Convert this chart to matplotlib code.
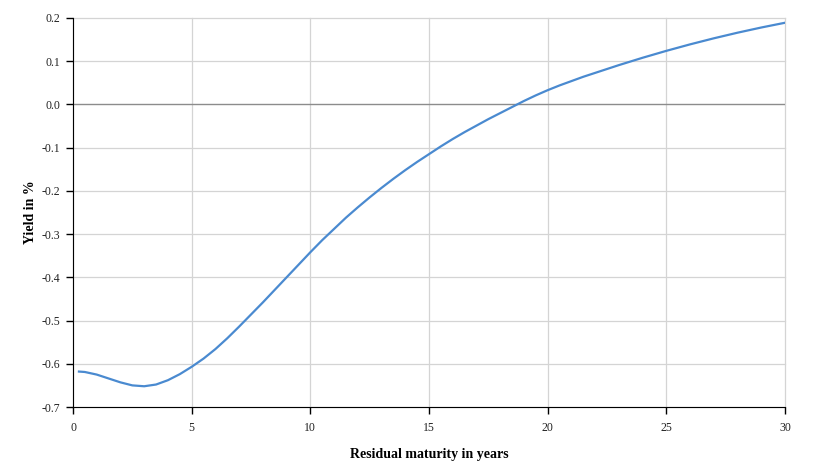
import matplotlib.pyplot as plt

# Residual maturity (years) and yield (%)
maturity = [0.25, 0.5, 1, 1.5, 2, 2.5, 3, 3.5, 4, 4.5, 5, 5.5, 6, 6.5, 7, 7.5,
            8, 8.5, 9, 9.5, 10, 10.5, 11, 11.5, 12, 12.5, 13, 13.5, 14, 14.5,
            15, 15.5, 16, 16.5, 17, 17.5, 18, 18.5, 19, 19.5, 20, 20.5, 21,
            21.5, 22, 23, 24, 25, 26, 27, 28, 29, 30]
yield_pct = [-0.618, -0.619, -0.625, -0.634, -0.643, -0.650, -0.652, -0.648,
             -0.638, -0.624, -0.607, -0.588, -0.566, -0.541, -0.514, -0.486,
             -0.458, -0.429, -0.400, -0.371, -0.342, -0.314, -0.288, -0.262,
             -0.238, -0.215, -0.193, -0.172, -0.152, -0.133, -0.115, -0.097,
             -0.080, -0.064, -0.049, -0.034, -0.020, -0.006, 0.008, 0.021,
             0.033, 0.044, 0.054, 0.064, 0.073, 0.091, 0.108, 0.124, 0.139,
             0.153, 0.166, 0.178, 0.189]

x_ticks = [0, 5, 10, 15, 20, 25, 30]
y_ticks = [-0.7, -0.6, -0.5, -0.4, -0.3, -0.2, -0.1, 0.0, 0.1, 0.2]

plt.rcParams['font.family'] = ['Liberation Serif', 'DejaVu Serif']

fig = plt.figure(figsize=(8.13, 4.62), dpi=100)
ax = fig.add_axes([73 / 813, 1 - 407 / 462, 712 / 813, 389 / 462])

# grid
for xv in x_ticks:
    ax.axvline(xv, color='#d4d4d4', lw=0.9, zorder=1, clip_on=False)
for yv in y_ticks:
    if yv == 0.0:
        ax.axhline(yv, color='#8c8c8c', lw=1.0, zorder=1)
    else:
        ax.axhline(yv, color='#d4d4d4', lw=0.9, zorder=1, clip_on=False)

ax.plot(maturity, yield_pct, color='#4a8ad0', lw=1.6, zorder=3)

ax.set_xlim(0, 30)
ax.set_ylim(-0.7, 0.2)
ax.set_xticks(x_ticks)
ax.set_yticks(y_ticks)
ax.set_yticklabels(['%.1f' % v for v in y_ticks])

ax.spines['top'].set_visible(False)
ax.spines['right'].set_visible(False)
ax.spines['left'].set_color('black')
ax.spines['bottom'].set_color('black')
ax.tick_params(direction='out', length=5, width=1, colors='black',
               labelsize=8.5, labelcolor='#222222', pad=4)
ax.tick_params(axis='x', pad=6)

ax.set_xlabel('Residual maturity in years', fontsize=10, fontweight='bold', va='center')
ax.set_ylabel('Yield in %', fontsize=10, fontweight='bold', va='center')
ax.xaxis.set_label_coords(0.5, -0.121)
ax.yaxis.set_label_coords(-0.060, 0.5)

fig.savefig('out.png', dpi=100)
